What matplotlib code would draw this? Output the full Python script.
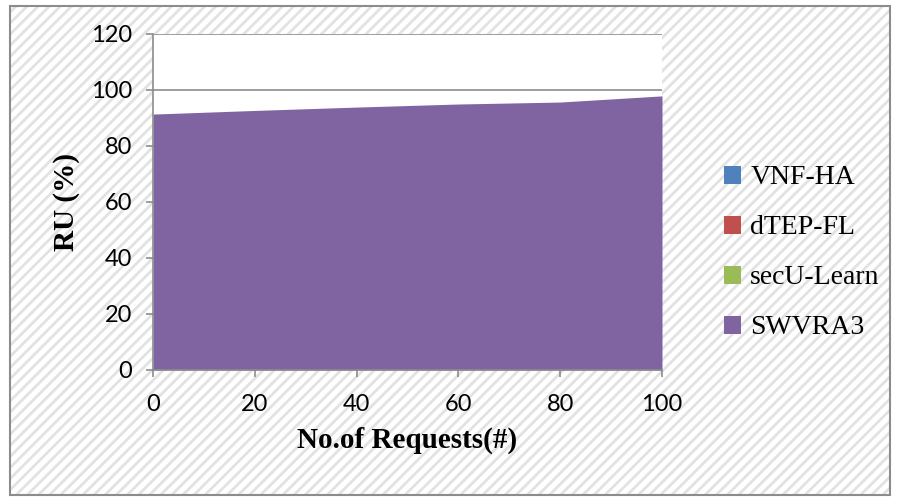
import matplotlib.pyplot as plt
from matplotlib.patches import Patch, Rectangle

requests = [0, 20, 40, 60, 80, 100]
swvra3 = [91.4, 92.7, 93.9, 95.0, 95.7, 97.9]
series_names = ["VNF-HA", "dTEP-FL", "secU-Learn", "SWVRA3"]
series_colors = ["#4f81bd", "#c0504d", "#9bbb59", "#8064a2"]

plt.rcParams['hatch.linewidth'] = 2.0

fig = plt.figure(figsize=(8.99, 5), dpi=100)

# hatched chart-area background with grey border, behind everything
bg_ax = fig.add_axes([0, 0, 1, 1], zorder=-1)
bg_ax.set_xlim(0, 899)
bg_ax.set_ylim(500, 0)
bg_ax.axis('off')
bg_ax.add_patch(Rectangle((10, 6), 880, 489, facecolor='white',
                          edgecolor='#e2e2e2', hatch='///', linewidth=0))
bg_ax.add_patch(Rectangle((10, 6), 880, 489, facecolor='none',
                          edgecolor='#8c8c8c', linewidth=1.5))

ax = fig.add_axes([153 / 899, 130 / 500, 509 / 899, 336 / 500])
ax.set_facecolor('white')

ax.fill_between(requests, 0, swvra3, color=series_colors[3], linewidth=0, zorder=2)

ax.set_xlim(0, 100)
ax.set_ylim(0, 120)
ax.set_xticks(requests)
ax.set_yticks(range(0, 121, 20))
ax.grid(axis='y', color='#8c8c8c', linewidth=1.2, zorder=1)
ax.set_axisbelow(True)

for side in ['top', 'right']:
    ax.spines[side].set_visible(False)
for side in ['left', 'bottom']:
    ax.spines[side].set_color('#8c8c8c')
    ax.spines[side].set_linewidth(1.2)

ax.tick_params(axis='both', colors='#8c8c8c', length=5, width=1.2,
               labelsize=17, labelcolor='black')
ax.tick_params(axis='y', pad=10)
ax.tick_params(axis='x', pad=12)
for lbl in ax.get_xticklabels() + ax.get_yticklabels():
    lbl.set_fontfamily('Lato')

ax.set_xlabel("No.of Requests(#)", fontfamily='Liberation Serif',
              fontweight='bold', fontsize=21, labelpad=9)
ax.set_ylabel("RU (%)", fontfamily='Liberation Serif',
              fontweight='bold', fontsize=21, labelpad=8)

handles = [Patch(facecolor=c, edgecolor='none') for c in series_colors]
fig.legend(handles, series_names, loc='center left',
           bbox_to_anchor=(710 / 899, 1 - 253 / 500),
           prop={'family': 'Liberation Serif', 'size': 20},
           frameon=False, handlelength=0.6, handleheight=0.6,
           handletextpad=0.35, labelspacing=0.9, borderpad=0)

fig.savefig("out.png", dpi=100)
